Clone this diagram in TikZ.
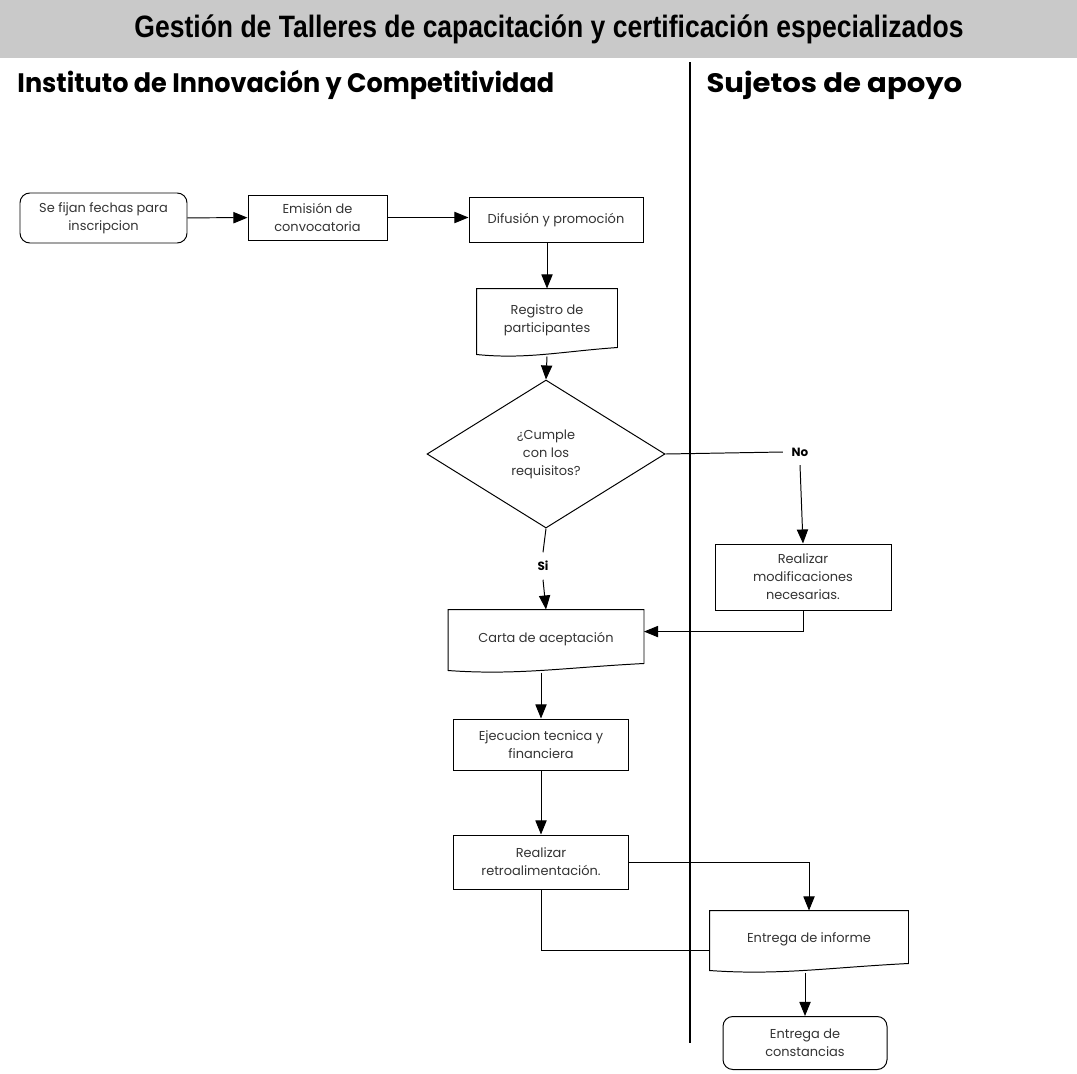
\documentclass[tikz,border=0pt]{standalone}
\usepackage{fontspec}
\usepackage{graphicx}
\setmainfont{Poppins}
\newfontfamily\titlefont{Liberation Sans}
\usetikzlibrary{arrows.meta,positioning,calc,shapes.geometric}
\newcommand{\pxu}{0.025cm}
% document shape: wavy bottom edge drawn round a named node
\newcommand{\docoutline}[1]{
\draw (#1.north west) -- (#1.north east) -- ([yshift=9*\pxu]#1.south east)
  .. controls ([yshift=5*\pxu]$(#1.south east)!0.4!(#1.south west)$) and ([yshift=-3*\pxu]$(#1.south west)!0.35!(#1.south east)$)
  .. ([yshift=2*\pxu]#1.south west) -- cycle;
}

\begin{document}
\begin{tikzpicture}[x=0.025cm,y=-0.025cm,line width=0.7pt,
  boxtext/.style={font=\fontsize{9.2}{12.8}\selectfont,text=black!80,align=center,inner sep=0pt},
  procbox/.style={boxtext,draw},
  roundbox/.style={procbox,rounded corners=7pt},
  decision/.style={boxtext,draw,diamond,minimum width=238*\pxu,minimum height=148*\pxu},
  flow/.style={-{Triangle[length=10pt,width=8pt]}},
  lbl/.style={font=\bfseries\fontsize{8.5}{10}\selectfont,inner sep=6pt},
  lanehead/.style={font=\bfseries\fontsize{19}{22}\selectfont,anchor=base west,inner sep=0pt}]
\useasboundingbox (0,0) rectangle (1077,1073);
\fill[black!21] (0,0) rectangle (1077,58);
\node[anchor=base,inner sep=0pt] (title) at (549,37)
  {\scalebox{0.857}[1]{\titlefont\bfseries\fontsize{22}{24}\selectfont Gestión de Talleres de capacitación y certificación especializados}};
\node[lanehead] (inst) at (17,92) {\scalebox{0.955}[1]{Instituto de Innovación y Competitividad}};
\node[lanehead] (suj) at (706,92) {\scalebox{1.09}[1]{Sujetos de apoyo}};
\draw[line width=1.1pt] (690,62) -- (690,1043);

% first row
\node[roundbox,minimum width=167*\pxu,minimum height=50*\pxu] (fijan) at (103.5,218) {Se fijan fechas para\\inscripcion};
\node[procbox,minimum width=139*\pxu,minimum height=45*\pxu] (emision) at (317.5,217.5) {Emisión de\\convocatoria};
\node[procbox,minimum width=174*\pxu,minimum height=45*\pxu] (difusion) at (556,220) {Difusión y promoción};

% registro and decision
\node[boxtext,minimum width=140*\pxu,minimum height=67*\pxu] (registro) at (547,322.5) {Registro de\\participantes\\[-7.8pt]};
\docoutline{registro}
\node[decision] (cumple) at (546,454) {¿Cumple\\con los\\requisitos?};
\node[lbl] (no) at (800,452) {No};
\node[lbl] (si) at (543,566) {Si};
\node[procbox,minimum width=176*\pxu,minimum height=66*\pxu] (modif) at (803,577) {Realizar\\modificaciones\\necesarias.};

% lower column
\node[boxtext,minimum width=195*\pxu,minimum height=62*\pxu] (carta) at (546,641) {Carta de aceptación\\[-7.1pt]};
\docoutline{carta}
\node[procbox,minimum width=175*\pxu,minimum height=51*\pxu] (ejec) at (541,744.5) {Ejecucion tecnica y\\financiera};
\node[procbox,minimum width=175*\pxu,minimum height=54*\pxu] (retro) at (541,862) {Realizar\\retroalimentación.};
\node[boxtext,minimum width=198*\pxu,minimum height=61*\pxu] (informe) at (809,941.5) {Entrega de informe\\[-7.8pt]};
\docoutline{informe}
\node[roundbox,minimum width=164*\pxu,minimum height=53*\pxu] (constancias) at (805,1043) {Entrega de\\constancias};

% connectors
\draw[flow] (fijan) -- (emision);
\draw[flow] (emision.east) -- (emision.east -| difusion.west);
\draw[flow] (difusion.south -| registro.north) -- (registro.north);
\draw[flow] (registro.south) -- (cumple.north);
\draw (cumple.east) -- (no.west);
\draw[flow] (no.south) -- (modif.north);
\draw (cumple.south) -- (si.north);
\draw[flow] (si.south) -- (carta.north);
\draw[flow] (modif.south) |- ($(carta.north east)!0.35!(carta.south east)$);
\draw[flow] (carta.south -| ejec.north) -- (ejec.north);
\draw[flow] (ejec) -- (retro);
\draw[flow] (retro.east) -| (informe.north);
\draw (retro.south) |- ($(informe.north west)!0.65!(informe.south west)$);
\draw[flow] (informe.south -| constancias.north) -- (constancias.north);
\end{tikzpicture}
\end{document}
